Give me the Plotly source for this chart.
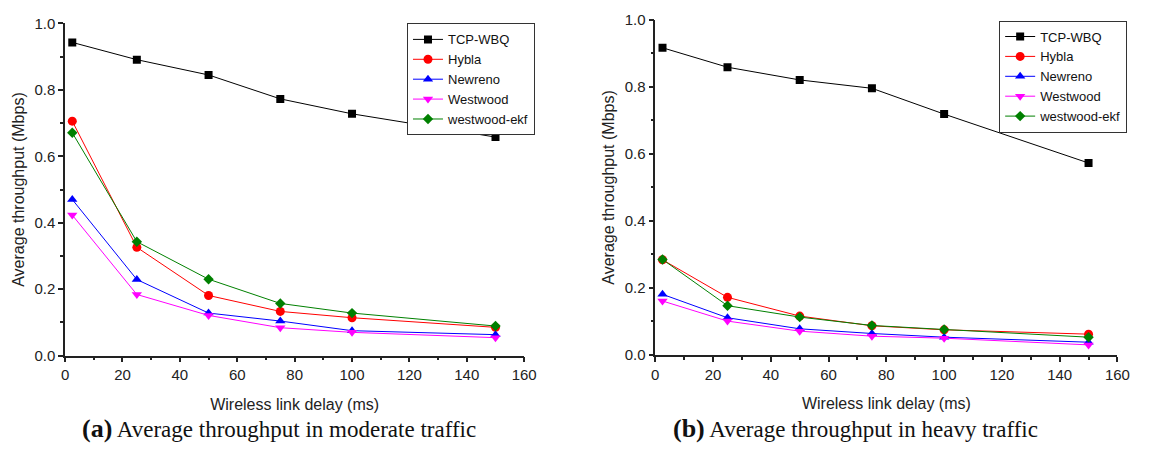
import plotly.graph_objects as go

delay = [2.5, 25, 50, 75, 100, 150]
names = ["TCP-WBQ", "Hybla", "Newreno", "Westwood", "westwood-ekf"]

moderate = {
    "TCP-WBQ": [0.943, 0.891, 0.845, 0.773, 0.728, 0.658],
    "Hybla": [0.706, 0.326, 0.181, 0.133, 0.114, 0.085],
    "Newreno": [0.470, 0.229, 0.128, 0.104, 0.075, 0.063],
    "Westwood": [0.423, 0.184, 0.121, 0.084, 0.070, 0.054],
    "westwood-ekf": [0.671, 0.343, 0.230, 0.157, 0.128, 0.089],
}
heavy = {
    "TCP-WBQ": [0.917, 0.859, 0.821, 0.796, 0.719, 0.573],
    "Hybla": [0.284, 0.172, 0.116, 0.087, 0.075, 0.062],
    "Newreno": [0.181, 0.111, 0.078, 0.064, 0.053, 0.038],
    "Westwood": [0.161, 0.101, 0.071, 0.056, 0.050, 0.030],
    "westwood-ekf": [0.285, 0.147, 0.113, 0.088, 0.076, 0.053],
}

colors = {"TCP-WBQ": "black", "Hybla": "red", "Newreno": "blue",
          "Westwood": "magenta", "westwood-ekf": "green"}
symbols = {"TCP-WBQ": "square", "Hybla": "circle", "Newreno": "triangle-up",
           "Westwood": "triangle-down", "westwood-ekf": "diamond"}
sizes = {"TCP-WBQ": 8, "Hybla": 9, "Newreno": 9, "Westwood": 9, "westwood-ekf": 8}

fig = go.Figure()
for i, data in enumerate([moderate, heavy]):
    xa = "x" if i == 0 else "x2"
    ya = "y" if i == 0 else "y2"
    lg = "legend" if i == 0 else "legend2"
    for n in names:
        fig.add_trace(go.Scatter(
            x=delay, y=data[n], name=n, mode="lines+markers",
            line=dict(color=colors[n], width=1),
            marker=dict(symbol=symbols[n], size=sizes[n], color=colors[n]),
            xaxis=xa, yaxis=ya, legend=lg))

sans = "Liberation Sans, Arial, sans-serif"
tick_font = dict(family=sans, size=15, color="#222")
title_font = dict(family=sans, size=16, color="#222")
common_x = dict(range=[0, 160], dtick=20, showline=True, linecolor="#222", linewidth=1.5,
                ticks="outside", ticklen=5, tickwidth=1.5, tickcolor="#222",
                minor=dict(dtick=10, ticks="outside", ticklen=3, tickcolor="#222", tickwidth=1.5),
                showgrid=False, zeroline=False, tickfont=tick_font,
                title=dict(text="Wireless link delay (ms)", font=title_font, standoff=16))
common_y = dict(range=[0, 1.0], dtick=0.2, tickformat=".1f", showline=True, linecolor="#222",
                linewidth=1.5, ticks="outside", ticklen=5, tickwidth=1.5, tickcolor="#222",
                minor=dict(dtick=0.1, ticks="outside", ticklen=3, tickcolor="#222", tickwidth=1.5),
                showgrid=False, zeroline=False, tickfont=tick_font,
                title=dict(text="Average throughput (Mbps)", font=title_font, standoff=6))

leg_common = dict(bgcolor="white", bordercolor="#333", borderwidth=1,
                  font=dict(family=sans, size=13, color="#111"),
                  tracegroupgap=0, itemwidth=30, xanchor="left", yanchor="top")

serif = "Liberation Serif, Times New Roman, serif"
fig.update_layout(
    width=1157, height=456, margin=dict(l=0, r=0, t=0, b=0),
    paper_bgcolor="white", plot_bgcolor="white", showlegend=True,
    xaxis=dict(domain=[0.0536, 0.4563], anchor="y", **common_x),
    yaxis=dict(domain=[0.2105, 0.967], anchor="x", **common_y),
    xaxis2=dict(domain=[0.5713, 0.9767], anchor="y2", **common_x),
    yaxis2=dict(domain=[0.212, 0.975], anchor="x2", **common_y),
    legend=dict(x=409/1157, y=1-15/456, **leg_common),
    legend2=dict(x=1010/1157, y=1-12/456, **leg_common),
    annotations=[
        dict(text="<b><span style='font-size:26px'>(a)</span></b> Average throughput in moderate traffic",
             x=77/1157, y=1-436/456,
             xref="paper", yref="paper", showarrow=False, xanchor="left", yanchor="middle",
             font=dict(family=serif, size=23, color="#111")),
        dict(text="<b><span style='font-size:26px'>(b)</span></b> Average throughput in heavy traffic",
             x=677/1157, y=1-436/456,
             xref="paper", yref="paper", showarrow=False, xanchor="left", yanchor="middle",
             font=dict(family=serif, size=23, color="#111")),
    ],
)

fig.write_html("out.html")
